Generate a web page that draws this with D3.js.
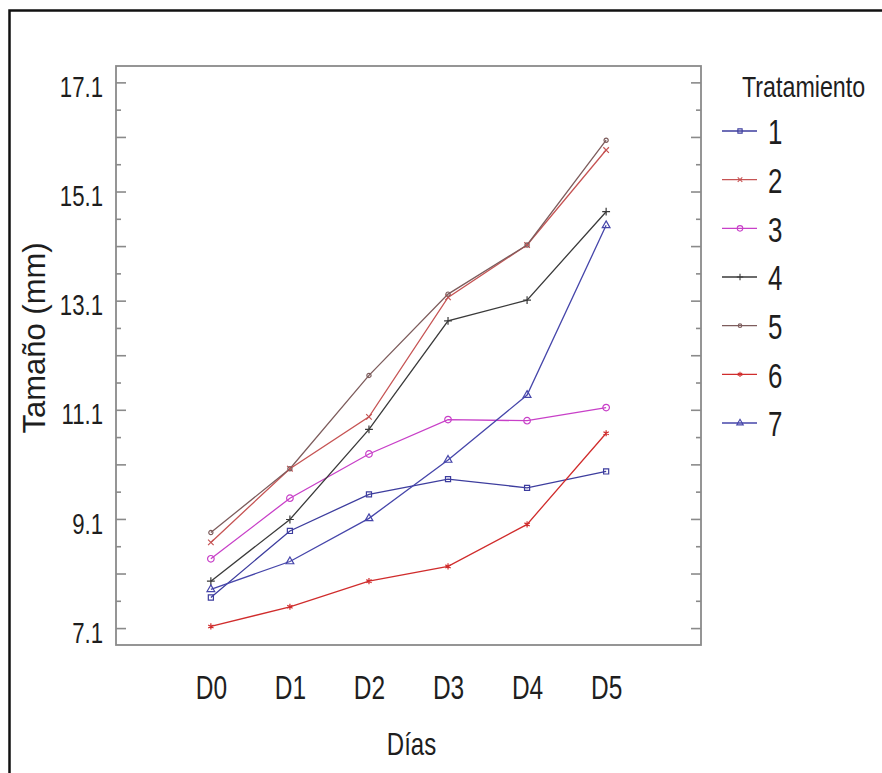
<!DOCTYPE html>
<html>
<head>
<meta charset="utf-8">
<script src="https://cdn.jsdelivr.net/npm/d3@7"></script>
<style>
  body { margin: 0; background: #fff; }
</style>
</head>
<body>
<div id="chart"></div>
<script>
const days = ['D0', 'D1', 'D2', 'D3', 'D4', 'D5'];
const treatments = ['1', '2', '3', '4', '5', '6', '7'];

const t1 = [7.66, 8.88, 9.55, 9.83, 9.67, 9.97];
const t2 = [8.67, 10.02, 10.97, 13.16, 14.12, 15.86];
const t3 = [8.37, 9.48, 10.29, 10.92, 10.90, 11.14];
const t4 = [7.96, 9.09, 10.74, 12.73, 13.11, 14.73];
const t5 = [8.85, 10.02, 11.73, 13.22, 14.12, 16.04];
const t6 = [7.13, 7.49, 7.96, 8.23, 9.00, 10.67];
const t7 = [7.81, 8.32, 9.11, 10.18, 11.37, 14.48];

const yTickLabels = ['7.1', '9.1', '11.1', '13.1', '15.1', '17.1'];

const colors  = ['#3d3d9e', '#c65454', '#c840c8', '#3a3a3a', '#7d5c5c', '#d02c2c', '#4646aa'];
const symbols = [d3.symbolSquare, d3.symbolTimes || d3.symbolCross, d3.symbolCircle, d3.symbolPlus || d3.symbolCross,
                 d3.symbolCircle, d3.symbolAsterisk || d3.symbolStar, d3.symbolTriangle];
const symSize = [26, 22, 34, 22, 14, 26, 26];

const series = [t1, t2, t3, t4, t5, t6, t7];

const W = 882, H = 773;
const frame = { left: 116, top: 66, right: 701, bottom: 645 };
const sans = "'Liberation Sans', Arial, sans-serif";
const axisGray = '#8a8a8a';
const ink = '#1e1e1e';

// no condensed face installed: squeeze text horizontally, keeping its anchor x
function squeeze(sel, s) {
  sel.each(function() {
    const t = d3.select(this);
    const x0 = +t.attr('x') || 0;
    t.attr('x', x0 / s).attr('transform', `scale(${s},1)`);
  });
}

const svg = d3.select('#chart').append('svg').attr('width', W).attr('height', H);
svg.append('rect').attr('width', W).attr('height', H).attr('fill', '#fff');

// outer picture border (top + left)
svg.append('path')
  .attr('d', `M9.5,${H}V10.5H${W}`)
  .attr('fill', 'none').attr('stroke', '#111').attr('stroke-width', 2.5);

const x = d3.scalePoint().domain(days).range([frame.left, frame.right]).padding(1.2);
const y = d3.scaleLinear().domain([6.79, 17.4]).range([frame.bottom, frame.top]);

const unitTicks = d3.range(0, 11).map(i => +(7.1 + i).toFixed(1));
const halfTicks = d3.range(0, 10).map(i => +(7.6 + i).toFixed(1));

// inward ticks on both sides
function tickAxis(axis, vals, size, xpos) {
  svg.append('g').attr('transform', `translate(${xpos},0)`)
    .call(axis(y).tickValues(vals).tickSize(-size).tickFormat(''))
    .call(a => a.select('.domain').remove())
    .call(a => a.selectAll('line').attr('stroke', axisGray).attr('stroke-width', 1.6));
}
tickAxis(d3.axisLeft, unitTicks, 10, frame.left);
tickAxis(d3.axisLeft, halfTicks, 5, frame.left);
tickAxis(d3.axisRight, unitTicks, 10, frame.right);
tickAxis(d3.axisRight, halfTicks, 5, frame.right);

// y labels
svg.append('g').attr('transform', `translate(${frame.left},0)`)
  .call(d3.axisLeft(y).tickValues(yTickLabels.map(Number)).tickSize(0).tickPadding(13)
    .tickFormat((d, i) => yTickLabels[i]))
  .call(a => a.select('.domain').remove())
  .call(a => a.selectAll('text').attr('dy', '0.47em')
    .style('font-family', sans).style('font-size', '30px').style('fill', ink))
  .call(a => squeeze(a.selectAll('text'), 0.74));

// x labels
svg.append('g').attr('transform', `translate(0,${frame.bottom})`)
  .call(d3.axisBottom(x).tickSize(0).tickPadding(30))
  .call(a => a.select('.domain').remove())
  .call(a => a.selectAll('text')
    .style('font-family', sans).style('font-size', '34px').style('fill', ink))
  .call(a => squeeze(a.selectAll('text'), 0.72));

// frame
svg.append('rect')
  .attr('x', frame.left).attr('y', frame.top)
  .attr('width', frame.right - frame.left).attr('height', frame.bottom - frame.top)
  .attr('fill', 'none').attr('stroke', axisGray).attr('stroke-width', 1.8);

// lines
const line = d3.line().x((d, i) => x(days[i])).y(d => y(d));
series.forEach((s, k) => {
  svg.append('path').datum(s)
    .attr('d', line)
    .attr('fill', 'none').attr('stroke', colors[k]).attr('stroke-width', 1.3);
});
series.forEach((s, k) => {
  svg.append('g').selectAll('path').data(s).join('path')
    .attr('transform', (d, i) => `translate(${x(days[i])},${y(d)})`)
    .attr('d', d3.symbol().type(symbols[k]).size(symSize[k]))
    .attr('fill', k === 3 || k === 5 ? colors[k] : 'none')
    .attr('stroke', colors[k]).attr('stroke-width', 1.2);
});

// axis titles
svg.append('text')
  .attr('transform', `translate(45,338) rotate(-90)`)
  .attr('text-anchor', 'middle')
  .style('font-family', sans).style('font-size', '31px').style('fill', ink)
  .text('Tamaño (mm)');

svg.append('text')
  .attr('x', x('D2') + (x('D3') - x('D2')) / 2 + 3).attr('y', 755)
  .attr('text-anchor', 'middle')
  .style('font-family', sans).style('font-size', '32px').style('fill', ink)
  .text('Días')
  .call(t => squeeze(t, 0.75));

// legend
const lg = svg.append('g').attr('transform', 'translate(722,0)');
lg.append('text').attr('x', 20).attr('y', 97)
  .style('font-family', sans).style('font-size', '30px').style('fill', ink)
  .text('Tratamiento')
  .call(t => squeeze(t, 0.775));

const ly = d3.scalePoint().domain(treatments).range([131, 423]);
const items = lg.selectAll('.item').data(treatments).join('g')
  .attr('class', 'item')
  .attr('transform', d => `translate(0,${ly(d)})`);
items.append('line').attr('x1', 0).attr('x2', 35)
  .attr('stroke', (d, i) => colors[i]).attr('stroke-width', 1.3);
items.append('path')
  .attr('transform', 'translate(18,0)')
  .attr('d', (d, i) => d3.symbol().type(symbols[i]).size(symSize[i] * 0.7)())
  .attr('fill', (d, i) => i === 3 || i === 5 ? colors[i] : 'none')
  .attr('stroke', (d, i) => colors[i]).attr('stroke-width', 1.1);
items.append('text').attr('x', 46).attr('dy', '0.37em')
  .style('font-family', sans).style('font-size', '36px').style('fill', ink)
  .text(d => d)
  .call(t => squeeze(t, 0.72));
</script>
</body>
</html>
